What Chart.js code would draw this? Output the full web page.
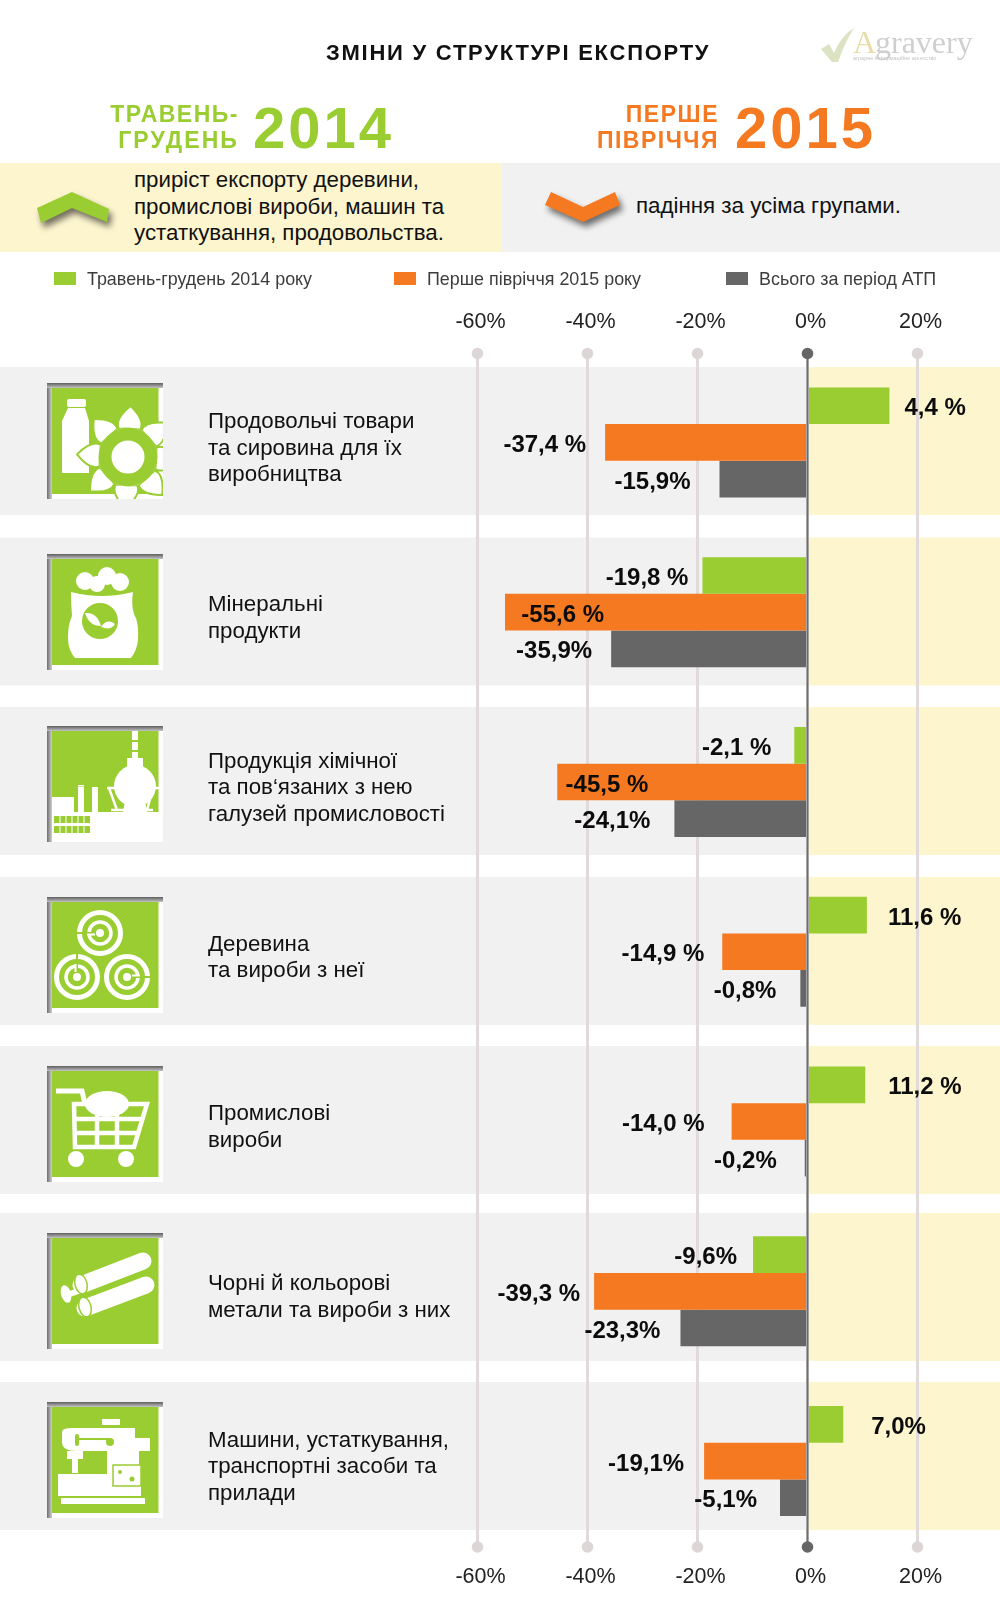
<!DOCTYPE html>
<html>
<head>
<meta charset="utf-8">
<script src="https://cdn.jsdelivr.net/npm/chart.js@4"></script>
<style>
  html, body { margin: 0; padding: 0; background: #fff; }
  #page { position: relative; width: 1000px; height: 1611px; overflow: hidden; font-family: "Liberation Sans", Arial, sans-serif; }
  #chart { position: absolute; left: 0; top: 0; }
  .t { position: absolute; white-space: nowrap; line-height: 1; }
  .box { position: absolute; top: 162.5px; height: 89px; }
  .swatch { position: absolute; top: 272px; width: 22px; height: 13px; }
  .legend { position: absolute; top: 269px; font-size: 17.9px; line-height: 20px; color: #3c3c3c; white-space: nowrap; }
  .icon { position: absolute; left: 47px; width: 116px; height: 116px; }
  .line { position: absolute; font-size: 22.3px; line-height: 26.5px; color: #111; white-space: nowrap; }
  .head { font-weight: bold; font-size: 23px; letter-spacing: 1.5px; text-align: right; }
  .year { font-weight: bold; font-size: 58px; letter-spacing: 3px; }
</style>
</head>
<body>
<div id="page">
  <canvas id="chart" width="1000" height="1611"></canvas>

  <div class="t" style="left:326px;top:42px;font-size:22px;font-weight:bold;letter-spacing:1.75px;color:#111">ЗМІНИ У СТРУКТУРІ ЕКСПОРТУ</div>

  <svg style="position:absolute;left:815px;top:22px" width="170" height="46">
    <path d="M6 27 L14 22 L19 31 Q26 14 39 6 Q30 20 23 40 L17 40 Z" fill="#dbe3c2"/>
    <text x="38" y="31" font-family="Liberation Serif" font-size="32" fill="#e8dca8">A</text>
    <text x="60" y="31" font-family="Liberation Serif" font-size="32" fill="#cfcfcf">gravery</text>
    <text x="38" y="38" font-family="Liberation Sans" font-size="5.5" fill="#c4c4c4">аграрне інформаційне агентство</text>
  </svg>

  <div class="t head" style="right:761px;top:103px;color:#9acd32">ТРАВЕНЬ-</div>
  <div class="t head" style="right:761px;top:129px;letter-spacing:2.1px;color:#9acd32">ГРУДЕНЬ</div>
  <div class="t year" style="left:253px;top:99px;color:#9acd32">2014</div>
  <div class="t head" style="right:281px;top:103px;color:#f47920">ПЕРШЕ</div>
  <div class="t head" style="right:281px;top:129px;color:#f47920">ПІВРІЧЧЯ</div>
  <div class="t year" style="left:735px;top:99px;color:#f47920">2015</div>

  <div class="box" style="left:0;width:502px;background:#fdf5ce"></div>
  <div class="box" style="left:502px;width:498px;background:#f1f1f1"></div>
  <svg style="position:absolute;left:0;top:163px;filter:drop-shadow(3px 5px 3px rgba(0,0,0,.55))" width="700" height="89">
    <polygon points="37,45 72,29 109,46 107,59 72,45 41,60" fill="#9acd32"/>
    <polygon points="545,42 551,29 583,44 615,29 620,42 583,59" fill="#f47920"/>
  </svg>
  <div class="line" style="left:134px;top:167px">приріст експорту деревини,<br>промислові вироби, машин та<br>устаткування, продовольства.</div>
  <div class="line" style="left:636px;top:193px">падіння за усіма групами.</div>

  <div id="legendBox"></div>
  <div id="iconBox"></div>
</div>

<script>
// values
const seriesNames = ['Травень-грудень 2014 року', 'Перше півріччя 2015 року', 'Всього за період АТП'];
const rowLabels = [
  ['Продовольчі товари', 'та сировина для їх', 'виробництва'],
  ['Мінеральні', 'продукти'],
  ['Продукція хімічної', 'та пов‘язаних з нею', 'галузей промисловості'],
  ['Деревина', 'та вироби з неї'],
  ['Промислові', 'вироби'],
  ['Чорні й кольорові', 'метали та вироби з них'],
  ['Машини, устаткування,', 'транспортні засоби та', 'прилади']
];
// bar lengths (the 4,4 % bar really is drawn about 15 long)
const may2014 = [14.9, -19.1, -2.4, 10.8, 10.5, -9.9, 6.5];
const half2015 = [-36.8, -55, -45.5, -15.5, -13.8, -38.8, -18.8];
const totalAtp = [-16, -35.7, -24.2, -1.3, -0.5, -23.1, -5];
// printed labels
const may2014Text = ['4,4 %', '-19,8 %', '-2,1 %', '11,6 %', '11,2 %', '-9,6%', '7,0%'];
const half2015Text = ['-37,4 %', '-55,6 %', '-45,5 %', '-14,9 %', '-14,0 %', '-39,3 %', '-19,1%'];
const totalAtpText = ['-15,9%', '-35,9%', '-24,1%', '-0,8%', '-0,2%', '-23,3%', '-5,1%'];
const tickValues = [-60, -40, -20, 0, 20];

const GREEN = '#9acd32', ORANGE = '#f47920', GREY = '#666666';
const LINE = '#e0dada';

// label distance from the bar end, px. negative = sits inside the bar
const labelGaps = [
  [15, 14, 23, 21, 23, 16, 28],
  [19, -99, -91, 18, 27, 14, 20],
  [29, 19, 24, 24, 28, 20, 23]
];
const labelTexts = [may2014Text, half2015Text, totalAtpText];

// page layout of the row backgrounds, px
const bandTops = [367, 537.5, 707, 877, 1046, 1213, 1382];

// legend
[54, 394, 726].forEach(function (x, i) {
  const box = document.getElementById('legendBox');
  box.insertAdjacentHTML('beforeend',
    `<div class="swatch" style="left:${x}px;background:${[GREEN, ORANGE, GREY][i]}"></div>` +
    `<div class="legend" style="left:${x + 33}px">${seriesNames[i]}</div>`);
});

// icons, drawn in a 116 box
const W = 'fill="#fff"', G = 'fill="#9acd32"';
function petals(cx, cy) {
  let s = '';
  for (let a = 0; a < 360; a += 45) {
    s += `<path transform="rotate(${a + 3} ${cx} ${cy})" d="M${cx - 11} ${cy - 28} Q${cx - 15} ${cy - 38} ${cx} ${cy - 51} Q${cx + 15} ${cy - 38} ${cx + 11} ${cy - 28} Z" fill="#fff" stroke="#9acd32" stroke-width="2"/>`;
  }
  return s;
}
function rings(cx, cy, rot) {
  return `<g transform="rotate(${rot} ${cx} ${cy})" fill="none" stroke="#fff">
    <circle cx="${cx}" cy="${cy}" r="20.5" stroke-width="5"/>
    <circle cx="${cx}" cy="${cy}" r="11" stroke-width="3.5"/>
    <circle cx="${cx}" cy="${cy}" r="4" fill="#fff" stroke="none"/>
    <path d="M${cx} ${cy - 24} V${cy - 4}" stroke="#9acd32" stroke-width="2"/>
    <path d="M${cx - 1.5} ${cy - 13} V${cy - 5}" stroke="#fff" stroke-width="2"/>
  </g>`;
}
const iconArt = [
  `<rect x="20" y="16" width="19" height="8" rx="2" ${W}/><path d="M21 25 H38 L42 38 V90 H15 V38 Z" ${W}/>
   ${petals(81, 74)}<circle cx="81" cy="74" r="29.5" ${W}/><circle cx="81" cy="74" r="23" fill="none" stroke="#9acd32" stroke-width="13"/>`,
  `<circle cx="38" cy="27" r="9" ${W}/><circle cx="60" cy="22" r="9" ${W}/><circle cx="73" cy="28" r="9" ${W}/><circle cx="50" cy="30" r="8" ${W}/>
   <path d="M24 38 Q55 46 86 38 Q84 50 87 60 Q92 68 91 86 Q90 96 84 104 H28 Q21 96 21 84 Q21 70 25 62 Q24 50 24 38 Z" ${W}/>
   <circle cx="53" cy="67" r="18" ${G}/><path d="M38 59 Q50 58 54 72 Q42 72 38 59 Z M54 73 Q60 64 68 70 Q64 77 54 73 Z" ${W}/>`,
  `<rect x="85" y="5" width="6" height="28" ${W}/><rect x="85" y="14" width="6" height="2" ${G}/><rect x="85" y="24" width="6" height="2" ${G}/>
   <rect x="80" y="32" width="16" height="10" ${W}/><circle cx="88" cy="60" r="21" ${W}/>
   <path d="M60 62 H112 M62 62 L70 84 M106 62 L100 84 M64 84 H106" stroke="#fff" stroke-width="2.5" fill="none"/>
   <rect x="5" y="71" width="22" height="45" ${W}/><rect x="31" y="61" width="6" height="26" ${W}/><rect x="45" y="61" width="6" height="26" ${W}/>
   <rect x="31" y="59" width="6" height="1.5" ${W}/><path d="M5 86 H76 L78 75 H98 L100 86 H112 V116 H5 Z" ${W}/>
   <path d="M7 90 H43 V97 H7 Z M7 100 H43 V107 H7 Z" ${G}/><path d="M13 90 V107 M19 90 V107 M25 90 V107 M31 90 V107 M37 90 V107" stroke="#fff" stroke-width="1"/>`,
  rings(53, 36, 270) + rings(30, 80, 0) + rings(80, 80, 90),
  `<path d="M9 25 H35 L38 38" fill="none" stroke="#fff" stroke-width="5"/>
   <path d="M27 38 H100 L87 81 H28 Z M27 53 H96 M28 67 H92 M50 38 V81 M70 38 V81" fill="none" stroke="#fff" stroke-width="4.5"/>
   <ellipse cx="60" cy="38" rx="22" ry="13" ${W}/><circle cx="29" cy="93" r="8" ${W}/><circle cx="79" cy="93" r="8" ${W}/>`,
  `<path d="M34 52 L96 28" stroke="#fff" stroke-width="17" stroke-linecap="round"/>
   <path d="M38 75 L99 52" stroke="#fff" stroke-width="17" stroke-linecap="round"/>
   <path d="M20 62 L34 57" stroke="#fff" stroke-width="6"/>
   <ellipse cx="19" cy="61" rx="5" ry="9" transform="rotate(-15 19 61)" ${W}/>
   <ellipse cx="34" cy="51" rx="6" ry="10" transform="rotate(-15 34 51)" ${W} stroke="#9acd32" stroke-width="1.5"/>
   <ellipse cx="38" cy="74" rx="6" ry="10" transform="rotate(-15 38 74)" ${W} stroke="#9acd32" stroke-width="1.5"/>`,
  `<rect x="55" y="17" width="18" height="6" ${W}/><path d="M15 30 Q15 26 25 26 H88 V36 H103 V49 H92 V72 H60 V49 H30 Q15 49 15 40 Z" ${W}/>
   <rect x="20" y="49" width="16" height="8" ${W}/><rect x="25" y="57" width="6" height="14" ${W}/>
   <rect x="28" y="32" width="4" height="12" rx="2" ${G}/><rect x="30" y="36" width="34" height="2" ${G}/><circle cx="63" cy="40" r="4" ${G}/>
   <path d="M11 72 H66 V84 H94 V94 H11 Z" ${W}/><rect x="66" y="63" width="28" height="21" ${W} stroke="#9acd32" stroke-width="1.5"/>
   <circle cx="73" cy="70" r="2" ${G}/><circle cx="85" cy="77" r="2.5" ${G}/><rect x="14" y="96" width="84" height="6" ${W}/>`
];
const iconTops = [383, 554, 726, 897, 1066, 1233, 1402];
iconTops.forEach(function (top, i) {
  document.getElementById('iconBox').insertAdjacentHTML('beforeend',
    `<svg class="icon" style="top:${top}px" viewBox="0 0 116 116">
      <defs>
        <linearGradient id="sT${i}" x1="0" y1="0" x2="0" y2="1"><stop offset="0" stop-color="#5e5e5e"/><stop offset="1" stop-color="#c4c4c4"/></linearGradient>
        <linearGradient id="sL${i}" x1="0" y1="0" x2="1" y2="0"><stop offset="0" stop-color="#6e6e6e"/><stop offset="1" stop-color="#cfcfcf"/></linearGradient>
      </defs>
      <rect width="116" height="116" fill="#fff"/>
      <rect x="5" y="5" width="106.5" height="106" fill="#9acd32"/>
      ${iconArt[i]}
      <rect x="0" y="0" width="5" height="116" fill="url(#sL${i})"/>
      <rect x="0" y="0" width="116" height="5" fill="url(#sT${i})"/>
    </svg>`);
});

// row bands behind the grid
const rowBands = {
  id: 'rowBands',
  beforeDraw: function (chart) {
    const ctx = chart.ctx, zero = chart.scales.x.getPixelForValue(0);
    bandTops.forEach(function (top) {
      ctx.fillStyle = '#f1f1f1';
      ctx.fillRect(0, top, zero, 148);
      ctx.fillStyle = '#fdf5ce';
      ctx.fillRect(zero, top, 1000 - zero, 148);
    });
  }
};

// zero line on top of the bars, round ends on the grid, value labels
const overlays = {
  id: 'overlays',
  afterDatasetsDraw: function (chart) {
    const ctx = chart.ctx, x = chart.scales.x, area = chart.chartArea;
    const top = area.top - 4, bottom = area.bottom + 1;
    ctx.save();
    ctx.strokeStyle = '#6e6e6e';
    ctx.lineWidth = 2;
    ctx.beginPath();
    ctx.moveTo(x.getPixelForValue(0), top);
    ctx.lineTo(x.getPixelForValue(0), bottom);
    ctx.stroke();
    tickValues.forEach(function (v) {
      ctx.fillStyle = v === 0 ? '#666666' : '#dcd6d6';
      [top, bottom].forEach(function (py) {
        ctx.beginPath();
        ctx.arc(x.getPixelForValue(v), py, 5.8, 0, Math.PI * 2);
        ctx.fill();
      });
    });
    ctx.font = 'bold 24px "Liberation Sans"';
    ctx.fillStyle = '#0c0c0c';
    ctx.textBaseline = 'middle';
    chart.data.datasets.forEach(function (ds, d) {
      chart.getDatasetMeta(d).data.forEach(function (bar, i) {
        const gap = labelGaps[d][i];
        if (ds.data[i] >= 0) {
          ctx.textAlign = 'left';
          ctx.fillText(labelTexts[d][i], bar.x + gap, bar.y + 3);
        } else {
          ctx.textAlign = 'right';
          ctx.fillText(labelTexts[d][i], bar.x - gap, bar.y + 3);
        }
      });
    });
    ctx.restore();
  }
};

const xTicks = {
  color: '#222',
  font: { family: 'Liberation Sans', size: 21.5 },
  labelOffset: 3,
  autoSkip: false,
  maxRotation: 0,
  callback: function (v) { return v + '%'; }
};
function setTicks(axis) { axis.ticks = tickValues.map(function (value) { return { value: value }; }); }
function barSet(label, data, color) {
  return { label: label, data: data, backgroundColor: color, borderWidth: 0, categoryPercentage: 0.648, barPercentage: 1 };
}

new Chart(document.getElementById('chart').getContext('2d'), {
  type: 'bar',
  data: {
    labels: rowLabels,
    datasets: [
      barSet(seriesNames[0], may2014, GREEN),
      barSet(seriesNames[1], half2015, ORANGE),
      barSet(seriesNames[2], totalAtp, GREY)
    ]
  },
  plugins: [rowBands, overlays],
  options: {
    indexAxis: 'y',
    responsive: false,
    animation: false,
    layout: { padding: { left: 208 } },
    plugins: { legend: { display: false }, tooltip: { enabled: false } },
    scales: {
      x: {
        position: 'bottom',
        min: -109,
        max: 35,
        afterBuildTicks: setTicks,
        afterFit: function (s) { s.height = 65; },
        ticks: Object.assign({}, xTicks, { padding: 18 }),
        border: { display: false },
        grid: { color: LINE, lineWidth: 3, drawTicks: false }
      },
      x2: {
        axis: 'x',
        position: 'top',
        min: -109,
        max: 35,
        afterBuildTicks: setTicks,
        afterFit: function (s) { s.height = 357.5; },
        ticks: Object.assign({}, xTicks, { padding: 23 }),
        border: { display: false },
        grid: { drawOnChartArea: false, drawTicks: false }
      },
      y: {
        afterFit: function (s) { s.width = 0; },
        ticks: {
          mirror: true,
          padding: 0,
          labelOffset: 6,
          autoSkip: false,
          color: '#111',
          font: { family: 'Liberation Sans', size: 22.3, lineHeight: 1.19 }
        },
        border: { display: false },
        grid: { display: false, drawTicks: false }
      }
    }
  }
});
</script>
</body>
</html>
